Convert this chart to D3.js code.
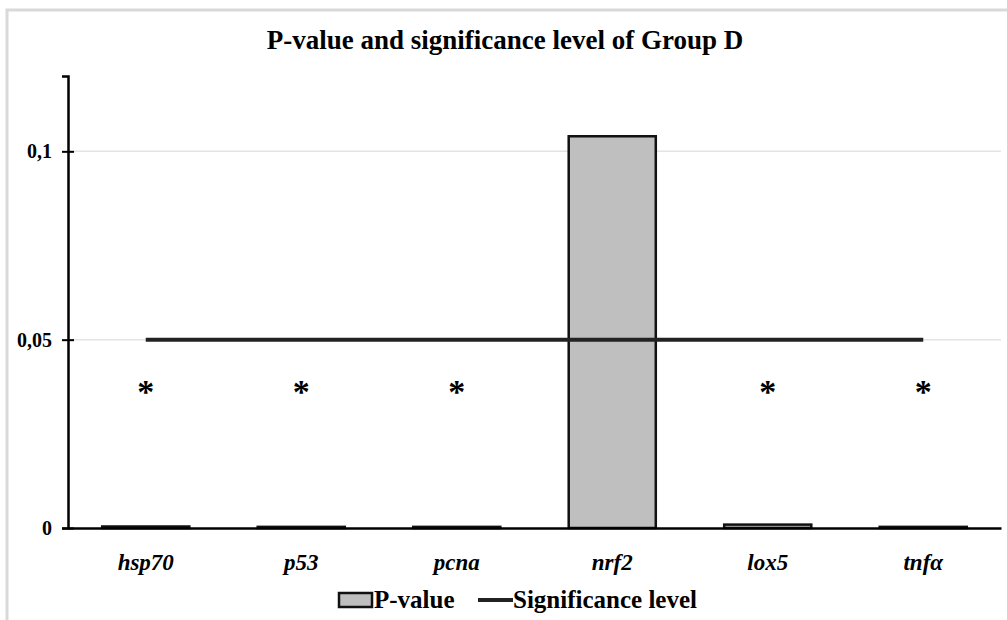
<!DOCTYPE html>
<html>
<head>
<meta charset="utf-8">
<script src="https://cdn.jsdelivr.net/npm/d3@7"></script>
<style>
  body { margin: 0; background: #fff; }
</style>
</head>
<body>
<script>
// données
const genes = ['hsp70', 'p53', 'pcna', 'nrf2', 'lox5', 'tnfα'];
const pValues = [0.0004, 0.0003, 0.0003, 0.104, 0.0009, 0.0003];
const significance = [0.05, 0.05, 0.05, 0.05, 0.05, 0.05];
const significatif = [true, true, true, false, true, true];
const niveauEtoile = 0.037;
const yTicks = [0, 0.05, 0.1];

const police = "'Liberation Serif', 'DejaVu Serif', serif";
const largeur = 1007, hauteur = 620;
const marge = { haut: 76, droite: 6, bas: 92, gauche: 68 };

const svg = d3.select('body')
  .append('svg')
  .attr('width', largeur)
  .attr('height', hauteur)
  .attr('font-family', police);

// cadre gris clair
svg.append('path')
  .attr('d', `M7,${hauteur} V10 H${largeur}`)
  .attr('fill', 'none')
  .attr('stroke', '#d9d9d9')
  .attr('stroke-width', 3);

const x = d3.scaleBand()
  .domain(genes)
  .range([marge.gauche, largeur - marge.droite])
  .paddingInner(0.44)
  .paddingOuter(0.22);

const y = d3.scaleLinear()
  .domain([0, 0.12])
  .range([hauteur - marge.bas, marge.haut]);

// titre
svg.append('text')
  .attr('x', 505)
  .attr('y', 49)
  .attr('text-anchor', 'middle')
  .attr('font-size', 27)
  .attr('font-weight', 'bold')
  .text('P-value and significance level of Group D');

// grille
svg.append('g')
  .selectAll('line')
  .data(yTicks.filter(d => d > 0))
  .join('line')
  .attr('x1', marge.gauche)
  .attr('x2', largeur - marge.droite)
  .attr('y1', d => y(d))
  .attr('y2', d => y(d))
  .attr('stroke', '#e3e3e3')
  .attr('stroke-width', 1.5);

// barres
svg.append('g')
  .selectAll('rect')
  .data(pValues)
  .join('rect')
  .attr('x', (d, i) => x(genes[i]))
  .attr('width', x.bandwidth())
  .attr('y', d => y(d))
  .attr('height', d => y(0) - y(d))
  .attr('fill', '#bfbfbf')
  .attr('stroke', '#111')
  .attr('stroke-width', 2.5);

// axe y
const axeY = svg.append('g')
  .attr('transform', `translate(${marge.gauche},0)`)
  .call(d3.axisLeft(y)
    .tickValues(yTicks)
    .tickSize(6)
    .tickFormat(d => d === 0 ? '0' : String(d).replace('.', ',')));
axeY.attr('font-family', police);
axeY.select('.domain').attr('stroke', '#000').attr('stroke-width', 2.5);
axeY.selectAll('.tick line')
  .attr('x1', -6).attr('x2', 6)
  .attr('stroke', '#000').attr('stroke-width', 2);
axeY.selectAll('.tick text')
  .attr('x', -16)
  .attr('fill', '#000')
  .attr('font-size', 20)
  .attr('font-weight', 'bold');

// axe x
const axeX = svg.append('g')
  .attr('transform', `translate(0,${y(0)})`)
  .call(d3.axisBottom(x).tickSize(0).tickSizeOuter(0));
axeX.attr('font-family', police);
axeX.select('.domain').attr('stroke', '#000').attr('stroke-width', 2.5);
axeX.selectAll('.tick text')
  .attr('y', 26)
  .attr('fill', '#000')
  .attr('font-size', 23)
  .attr('font-weight', 'bold')
  .attr('font-style', 'italic');

// seuil de significativité
const ligne = d3.line()
  .x((d, i) => x(genes[i]) + x.bandwidth() / 2)
  .y(d => y(d));
svg.append('path')
  .datum(significance)
  .attr('d', ligne)
  .attr('fill', 'none')
  .attr('stroke', '#222')
  .attr('stroke-width', 4);

// étoiles
svg.append('g')
  .selectAll('text')
  .data(genes.filter((g, i) => significatif[i]))
  .join('text')
  .attr('x', d => x(d) + x.bandwidth() / 2)
  .attr('y', y(niveauEtoile) + 14)
  .attr('text-anchor', 'middle')
  .attr('font-size', 34)
  .attr('font-weight', 'bold')
  .text('*');

// légende
const legende = svg.append('g').attr('transform', 'translate(0,600)');
legende.append('rect')
  .attr('x', 339).attr('y', -7)
  .attr('width', 33).attr('height', 14)
  .attr('fill', '#bfbfbf')
  .attr('stroke', '#111')
  .attr('stroke-width', 2.5);
legende.append('text')
  .attr('x', 374).attr('y', 8)
  .attr('font-size', 25)
  .attr('font-weight', 'bold')
  .text('P-value');
legende.append('line')
  .attr('x1', 478).attr('x2', 513)
  .attr('y1', 0).attr('y2', 0)
  .attr('stroke', '#222')
  .attr('stroke-width', 4);
legende.append('text')
  .attr('x', 513).attr('y', 8)
  .attr('font-size', 25)
  .attr('font-weight', 'bold')
  .text('Significance level');
</script>
</body>
</html>
